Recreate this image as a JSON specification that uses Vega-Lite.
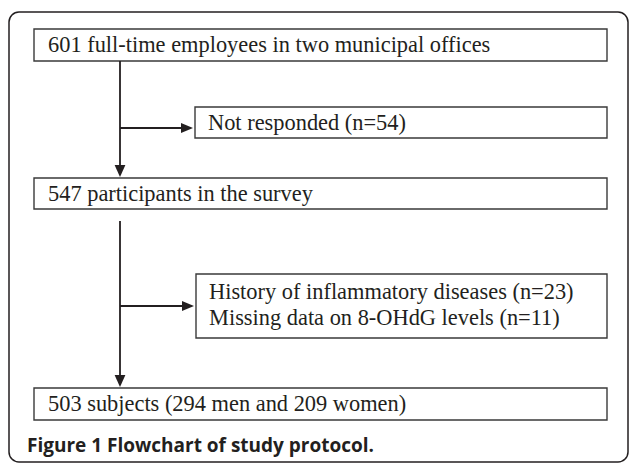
{
  "$schema": "https://vega.github.io/schema/vega-lite/v6.json",
  "width": 629,
  "height": 464,
  "autosize": {"type": "fit", "contains": "padding"},
  "padding": 0,
  "background": "white",
  "config": {"view": {"stroke": null}},
  "datasets": {
    "frame": [{"x": 9, "x2": 628, "y": 12, "y2": 462}],
    "boxes": [
      {"id": "b1", "x": 34, "x2": 607, "y": 29, "y2": 61},
      {"id": "b2", "x": 195, "x2": 607, "y": 107, "y2": 138},
      {"id": "b3", "x": 34, "x2": 607, "y": 178, "y2": 209},
      {"id": "b4", "x": 196, "x2": 607, "y": 274, "y2": 338},
      {"id": "b5", "x": 34, "x2": 607, "y": 388, "y2": 420}
    ],
    "lines": [
      {"x": 120, "x2": 120, "y": 61, "y2": 170},
      {"x": 120, "x2": 187, "y": 128, "y2": 128},
      {"x": 120, "x2": 120, "y": 221, "y2": 381},
      {"x": 120, "x2": 187, "y": 306, "y2": 306}
    ],
    "downArrows": [{"x": 120, "y": 171}, {"x": 120, "y": 381}],
    "rightArrows": [{"x": 187, "y": 128}, {"x": 188, "y": 306}],
    "labels": [
      {"x": 48, "y": 45, "text": "601 full-time employees in two municipal offices"},
      {"x": 208, "y": 123, "text": "Not responded (n=54)"},
      {"x": 48, "y": 194, "text": "547 participants in the survey"},
      {"x": 209, "y": 292, "text": "History of inflammatory diseases (n=23)"},
      {"x": 209, "y": 318, "text": "Missing data on 8-OHdG levels (n=11)"},
      {"x": 48, "y": 404, "text": "503 subjects (294 men and 209 women)"}
    ],
    "caption": [{"x": 27, "y": 446, "text": "Figure 1 Flowchart of study protocol."}]
  },
  "layer": [
    {
      "data": {"name": "frame"},
      "mark": {"type": "rect", "fill": null, "fillOpacity": 0, "stroke": "#231f20", "strokeWidth": 1.5, "cornerRadius": 10},
      "encoding": {
        "x": {"field": "x", "type": "quantitative", "scale": {"domain": [0, 629], "nice": false, "zero": false}, "axis": null},
        "x2": {"field": "x2"},
        "y": {"field": "y", "type": "quantitative", "scale": {"domain": [0, 464], "nice": false, "zero": false, "reverse": true}, "axis": null},
        "y2": {"field": "y2"}
      }
    },
    {
      "data": {"name": "boxes"},
      "mark": {"type": "rect", "fill": "white", "stroke": "#3a3a3a", "strokeWidth": 1.4},
      "encoding": {
        "x": {"field": "x", "type": "quantitative"},
        "x2": {"field": "x2"},
        "y": {"field": "y", "type": "quantitative"},
        "y2": {"field": "y2"}
      }
    },
    {
      "data": {"name": "lines"},
      "mark": {"type": "rule", "stroke": "#231f20", "strokeWidth": 1.8},
      "encoding": {
        "x": {"field": "x", "type": "quantitative"},
        "x2": {"field": "x2"},
        "y": {"field": "y", "type": "quantitative"},
        "y2": {"field": "y2"}
      }
    },
    {
      "data": {"name": "downArrows"},
      "mark": {"type": "point", "shape": "M-0.9,-1L0,1L0.9,-1Z", "filled": true, "fill": "#231f20", "opacity": 1, "size": 144, "strokeWidth": 0},
      "encoding": {
        "x": {"field": "x", "type": "quantitative"},
        "y": {"field": "y", "type": "quantitative"}
      }
    },
    {
      "data": {"name": "rightArrows"},
      "mark": {"type": "point", "shape": "M-1,-0.85L1,0L-1,0.85Z", "filled": true, "fill": "#231f20", "opacity": 1, "size": 144, "strokeWidth": 0},
      "encoding": {
        "x": {"field": "x", "type": "quantitative"},
        "y": {"field": "y", "type": "quantitative"}
      }
    },
    {
      "data": {"name": "labels"},
      "mark": {"type": "text", "align": "left", "baseline": "middle", "font": "Liberation Serif", "fontSize": 22.4, "fill": "#231f20"},
      "encoding": {
        "x": {"field": "x", "type": "quantitative"},
        "y": {"field": "y", "type": "quantitative"},
        "text": {"field": "text"}
      }
    },
    {
      "data": {"name": "caption"},
      "mark": {"type": "text", "align": "left", "baseline": "middle", "font": "Open Sans", "fontWeight": "bold", "fontSize": 19, "fill": "#231f20"},
      "encoding": {
        "x": {"field": "x", "type": "quantitative"},
        "y": {"field": "y", "type": "quantitative"},
        "text": {"field": "text"}
      }
    }
  ]
}
